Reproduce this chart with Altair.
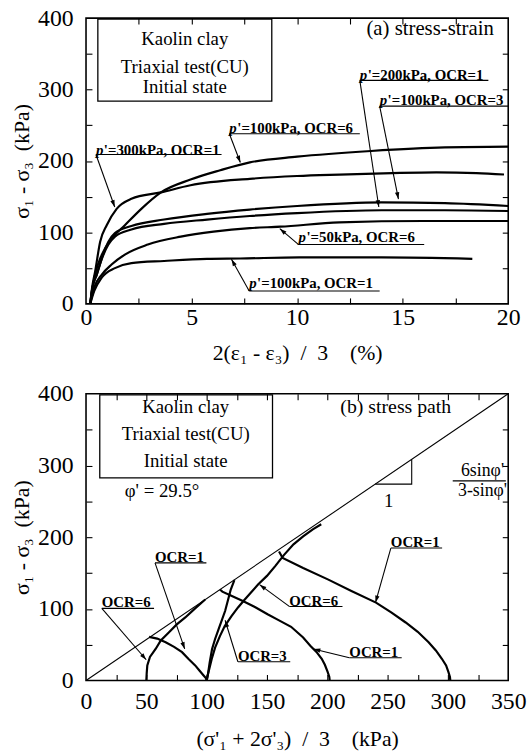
import math
import altair as alt
import pandas as pd

FONT = "Liberation Serif"
SP = "\u00a0"

# ---------------- (a) stress-strain : strain (%) and deviator stress (kPa) ----------------
ss_names = ["p'=300kPa, OCR=1", "p'=100kPa, OCR=6", "p'=100kPa, OCR=3",
            "p'=200kPa, OCR=1", "p'=50kPa, OCR=6", "p'=100kPa, OCR=1"]
eps_300_1 = [0.2, 0.3, 0.43, 0.67, 0.98, 1.45, 2.15, 3.55, 4.95, 7.76, 10.0, 12.0, 14.5, 16.6, 18.5, 19.8]
q_300_1 = [0, 25, 45, 87, 110, 133, 147, 156, 166, 175, 179, 181, 183, 184, 183, 181]
eps_100_6 = [0.2, 0.3, 0.43, 0.75, 1.21, 1.84, 2.62, 3.55, 4.95, 6.36, 7.76, 10.0, 13.5, 17.0, 20.0]
q_100_6 = [0, 20, 41, 69, 91, 110, 133, 156, 174, 187, 198, 206, 214, 219, 220]
eps_100_3 = [0.2, 0.3, 0.51, 0.75, 1.06, 1.37, 2.15, 3.7, 5.73, 7.76, 10.0, 14.0, 17.0, 20.0]
q_100_3 = [0, 22, 41, 64, 87, 99, 109, 118, 126, 132, 137, 142, 141, 137]
eps_200_1 = [0.2, 0.3, 0.51, 0.75, 1.06, 1.37, 2.15, 3.7, 5.73, 7.76, 10.0, 14.0, 17.0, 20.0]
q_200_1 = [0, 22, 41, 63, 83, 94, 104, 112, 118, 123, 127, 131, 131, 130]
eps_50_6 = [0.2, 0.39, 0.75, 1.21, 1.84, 2.93, 4.49, 6.04, 7.76, 9.2, 12.0, 16.0, 20.0]
q_50_6 = [0, 23, 41, 55, 69, 83, 94, 101, 106, 108, 114, 116, 116]
eps_100_1 = [0.2, 0.39, 0.75, 1.37, 2.15, 3.7, 5.73, 7.3, 10.1, 14.0, 18.3]
q_100_1 = [0, 18, 37, 50, 57, 60, 63, 63.5, 65, 65, 63]

# ---------------- (b) stress path : p' (kPa) and q (kPa) ----------------
sp_names = ["OCR=1 (300)", "OCR=1 (200)", "OCR=1 (100)", "OCR=6 (50)", "OCR=3 (100)", "OCR=6 (100)"]
p_300_1 = [302, 301.7, 300.4, 298.5, 295, 290, 284, 275, 265, 253, 240.4, 220, 200.9, 180, 163, 160]
qp_300_1 = [0, 5, 12, 21, 30.4, 42, 53.4, 68, 81, 95, 108.7, 125, 140.8, 157, 171, 180]
p_200_1 = [202, 201.7, 200.3, 198, 195.4, 191, 185.9, 180, 170, 160, 150.5, 140, 130, 120, 113, 111]
qp_200_1 = [0, 5, 12, 22, 30.4, 40, 48.7, 60, 75, 84, 92.5, 102.5, 111, 118.5, 124, 127]
p_100_1 = [100, 99.5, 97.3, 94, 90.5, 85, 79.6, 73, 66, 59, 52.3]
qp_100_1 = [0, 3, 7.3, 14, 21.1, 30, 39.6, 47, 53.4, 58.5, 61]
p_50_6 = [50, 50.3, 50.8, 53, 57.7, 62, 68.6, 75, 82.3, 90, 98.8]
qp_50_6 = [0, 10, 21, 33, 44, 56, 67, 78, 88, 100, 113]
p_100_3 = [100, 100.5, 101, 102.5, 104.5, 107, 110, 115.3, 120, 123]
qp_100_3 = [0, 4, 8, 25, 44, 58, 72, 97, 127, 140]
p_100_6 = [100, 101, 104.2, 107, 111, 115, 120.6, 126, 131.6, 142.6, 150, 157, 164, 172, 180, 188, 195]
qp_100_6 = [0, 8, 30, 46, 62, 76, 90, 102, 113, 134, 146, 160, 175, 190, 201, 211, 218]
fl_p = [0, 350]
fl_q = [0, 400]

# ---------------- axis ticks ----------------
a_x_major = [0, 5, 10, 15, 20]
a_x_minor = [2.5, 5, 7.5, 10, 12.5, 15, 17.5]
b_x_major = [0, 50, 100, 150, 200, 250, 300, 350]
b_x_minor = [25, 50, 75, 100, 125, 150, 175, 200, 225, 250, 275, 300, 325]
y_major = [0, 100, 200, 300, 400]
y_minor = [50, 100, 150, 200, 250, 300, 350]

# ---------------- annotations (a) ----------------
a_box_lines = ["Kaolin clay", "Triaxial test(CU)", "Initial state"]
a_box_line_y = [370.9, 331.8, 304.1]
a_labels = ["p'=200kPa, OCR=1", "p'=100kPa, OCR=3", "p'=100kPa, OCR=6",
            "p'=300kPa, OCR=1", "p'=50kPa, OCR=6", "p'=100kPa, OCR=1"]
a_label_x = [12.97, 13.91, 6.79, 0.47, 10.07, 7.73]
a_label_y = [319.7, 285.1, 246.4, 215.9, 94.1, 29.1]
a_under_x2 = [19.06, 20.0, 12.97, 6.42, 16.02, 13.91]
a_under_y = [312.8, 276.8, 238.1, 209.0, 83.0, 18.0]
a_tip_x = [13.87, 14.80, 7.31, 1.36, 9.18, 6.89]
a_tip_y = [135.6, 146.7, 197.9, 135.6, 105.2, 62.3]

# ---------------- annotations (b) ----------------
b_box_lines = ["Kaolin clay", "Triaxial test(CU)", "Initial state"]
b_box_line_y = [382.1, 343.4, 306.2]
b_labels = ["OCR=1", "OCR=6", "OCR=6", "OCR=3", "OCR=1", "OCR=1"]
b_label_x = [57.2, 13.1, 168.5, 125.9, 218.3, 252.7]
b_label_y = [172.4, 109.0, 110.3, 34.5, 40.0, 193.1]
b_under_x2 = [99.8, 56.4, 212.6, 169.3, 261.7, 295.2]
b_under_y = [164.1, 100.7, 103.4, 26.2, 31.7, 184.8]
b_tip_x = [81.8, 49.9, 143.9, 115.3, 188.6, 240.0]
b_tip_y = [44.1, 29.0, 133.8, 84.1, 44.1, 109.0]

W = 427
H_A = 289
H_B = 290
ARROW = "M0,0L-0.32,1L0.32,1Z"


def series_df(names, xs, ys):
    rows = []
    for n, xl, yl in zip(names, xs, ys):
        for i, (a, b) in enumerate(zip(xl, yl)):
            rows.append({"series": n, "i": i, "x": a, "y": b})
    return pd.DataFrame(rows)


def label_df(labels, lx, ly, ux2, uy, tx, ty, kx, ky):
    rows = []
    for t, a, b, c, d, e, f in zip(labels, lx, ly, ux2, uy, tx, ty):
        dx = (e - a) * kx
        dy = -(f - d) * ky
        ang = math.degrees(math.atan2(dx, -dy)) % 360
        if t.startswith("p'"):
            head, rest = "p", t[1:]
        else:
            head, rest = "", t
        rows.append({"head": head, "rest": rest, "x": a, "y": b, "x2": c, "uy": d,
                     "tx": e, "ty": f, "ang": ang})
    return pd.DataFrame(rows)


def enc_x(field, dom, axis):
    return alt.X(field, type="quantitative", scale=alt.Scale(domain=dom, nice=False, zero=False), axis=axis)


def enc_y(field, dom, axis):
    return alt.Y(field, type="quantitative", scale=alt.Scale(domain=dom, nice=False, zero=False), axis=axis)


def tick_axis(orient, values):
    return alt.Axis(orient=orient, values=values, ticks=True, tickSize=6, offset=-6, labels=False,
                    domain=False, grid=False, title=None)


def build_panel(curves, curve_interp, xdom, xmaj, xmin, xtitle, lab_pad, tit_pad, h,
                box, box_cx, box_lines, box_ys, extra_text, labels_df, extra_rules, head_dx):
    ydom = [0, 400]
    main_x = alt.Axis(orient="bottom", values=xmaj, ticks=False, domain=False, grid=False,
                      labelPadding=lab_pad, titlePadding=tit_pad, title=xtitle,
                      labelFlush=False, labelOverlap=False)
    main_y = alt.Axis(orient="left", values=y_major, ticks=False, domain=False, grid=False,
                      labelPadding=13, titlePadding=4,
                      title="σ₁ - σ₃" + SP * 2 + "(kPa)",
                      labelFlush=False, labelOverlap=False)
    lines = alt.Chart(curves).mark_line(color="black", strokeWidth=2.2, interpolate=curve_interp).encode(
        x=enc_x("x", xdom, main_x), y=enc_y("y", ydom, main_y), detail="series:N", order="i:Q")
    under = alt.Chart(labels_df).mark_rule(color="black", strokeWidth=1.1).encode(
        x=enc_x("x", xdom, tick_axis("bottom", xmin)), x2="x2:Q",
        y=enc_y("uy", ydom, tick_axis("left", y_minor)))
    arrows = alt.Chart(labels_df).mark_rule(color="black", strokeWidth=1.1).encode(
        x=enc_x("x", xdom, tick_axis("top", xmin)), x2="tx:Q",
        y=enc_y("uy", ydom, tick_axis("right", y_minor)), y2="ty:Q")
    heads = alt.Chart(labels_df).mark_point(shape=ARROW, filled=True, color="black", size=190, opacity=1).encode(
        x=enc_x("tx", xdom, None), y=enc_y("ty", ydom, None), angle=alt.Angle("ang:Q", scale=None))
    texts = alt.Chart(labels_df).mark_text(font=FONT, fontSize=15, fontWeight="bold", align="left",
                                           baseline="middle", color="black", dx=head_dx).encode(
        x=enc_x("x", xdom, None), y=enc_y("y", ydom, None), text="rest:N")
    ptext = alt.Chart(labels_df).mark_text(font=FONT, fontSize=15, fontWeight="bold", fontStyle="italic",
                                           align="left", baseline="middle", color="black").encode(
        x=enc_x("x", xdom, None), y=enc_y("y", ydom, None), text="head:N")
    box_df = pd.DataFrame([{"x": box[0], "x2": box[1], "y": box[2], "y2": box[3]}])
    boxr = alt.Chart(box_df).mark_rect(fillOpacity=0, stroke="black", strokeWidth=1.3).encode(
        x=enc_x("x", xdom, None), x2="x2:Q", y=enc_y("y", ydom, None), y2="y2:Q")
    btxt_df = pd.DataFrame({"t": box_lines, "x": [box_cx] * len(box_lines), "y": box_ys})
    btxt = alt.Chart(btxt_df).mark_text(font=FONT, fontSize=19, align="center", baseline="middle",
                                        color="black").encode(
        x=enc_x("x", xdom, None), y=enc_y("y", ydom, None), text="t:N")
    etxt = alt.Chart(extra_text).mark_text(font=FONT, align="center", baseline="middle", color="black").encode(
        x=enc_x("x", xdom, None), y=enc_y("y", ydom, None), text="t:N",
        size=alt.Size("s:Q", scale=None))
    layers = [lines, under, arrows, heads, texts, ptext, boxr, btxt, etxt]
    if extra_rules is not None:
        for df, sw in extra_rules:
            layers.append(alt.Chart(df).mark_line(color="black", strokeWidth=sw).encode(
                x=enc_x("x", xdom, None), y=enc_y("y", ydom, None), detail="series:N", order="i:Q"))
    return alt.layer(*layers).resolve_axis(x="independent", y="independent").properties(width=W, height=h)


# ---- panel (a)
curves_a = series_df(ss_names, [eps_300_1, eps_100_6, eps_100_3, eps_200_1, eps_50_6, eps_100_1],
                     [q_300_1, q_100_6, q_100_3, q_200_1, q_50_6, q_100_1])
labels_a = label_df(a_labels, a_label_x, a_label_y, a_under_x2, a_under_y, a_tip_x, a_tip_y,
                    W / 20.0, H_A / 400.0)
extra_a = pd.DataFrame({"t": ["(a) stress-strain"], "x": [16.3], "y": [384.8], "s": [21]})
title_a = "2(ε₁ - ε₃)" + SP * 2 + "/" + SP * 2 + "3" + SP * 4 + "(%)"
panel_a = build_panel(curves_a, "monotone", [0, 20], a_x_major, a_x_minor,
                      title_a, 2, 13, H_A,
                      [0.56, 8.80, 398.6, 283.7], 4.68, a_box_lines, a_box_line_y, extra_a, labels_a, None, 8)

# ---- panel (b)
curves_b = series_df(sp_names, [p_300_1, p_200_1, p_100_1, p_50_6, p_100_3, p_100_6],
                     [qp_300_1, qp_200_1, qp_100_1, qp_50_6, qp_100_3, qp_100_6])
labels_b = label_df(b_labels, b_label_x, b_label_y, b_under_x2, b_under_y, b_tip_x, b_tip_y,
                    W / 350.0, H_B / 400.0)
extra_b = pd.DataFrame({"t": ["(b) stress path", "φ' = 29.5°", "1", "6sinφ'", "3-sinφ'"],
                        "x": [256.8, 63.0, 251.0, 328.7, 328.7],
                        "y": [382.1, 264.8, 251.0, 292.4, 264.8],
                        "s": [20, 19, 19, 18, 18]})
fail_df = series_df(["failure"], [fl_p], [fl_q])
slope_k = 400.0 / 350.0
tri_df = series_df(["tri", "bar"], [[274 / slope_k, 270, 270], [304.0, 348.0]],
                   [[274, 274, 270 * slope_k], [278.6, 278.6]])
title_b = "(σ'₁ + 2σ'₃)" + SP * 2 + "/" + SP * 2 + "3" + SP * 4 + "(kPa)"
panel_b = build_panel(curves_b, "linear", [0, 350], b_x_major, b_x_minor,
                      title_b, 9, 16, H_B,
                      [11.4, 154.6, 398.6, 282.8], 82.6, b_box_lines, b_box_line_y, extra_b, labels_b,
                      [(fail_df, 1.1), (tri_df, 1.1)], 0)

chart = alt.vconcat(panel_a, panel_b, spacing=17).properties(
    padding={"left": 10, "top": 1, "right": 0, "bottom": 0}
).configure_view(stroke="black", strokeWidth=1.6).configure_axis(
    labelFont=FONT, titleFont=FONT, labelFontSize=24, titleFontSize=22, titleFontWeight="normal",
    labelColor="black", titleColor="black", tickColor="black", tickWidth=1.1
)

chart.save("out.html", embed_options={"renderer": "svg", "actions": False})
